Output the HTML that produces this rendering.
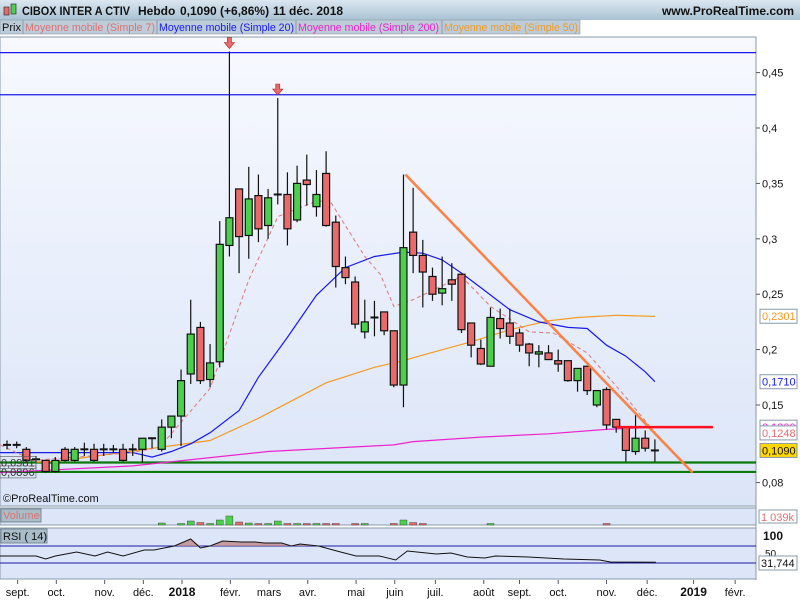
<!DOCTYPE html>
<html><head><meta charset="utf-8"><style>
body{margin:0;width:800px;height:600px;overflow:hidden;background:#fff;font-family:"Liberation Sans",sans-serif}
svg{display:block}
</style></head><body>
<svg id="c" width="800" height="600" xmlns="http://www.w3.org/2000/svg" font-family="Liberation Sans, sans-serif">
<defs>
<linearGradient id="hdr" x1="0" y1="0" x2="0" y2="1"><stop offset="0" stop-color="#dbe7f0"/><stop offset="1" stop-color="#a9c2d3"/></linearGradient>
<linearGradient id="bg" x1="0" y1="0" x2="0" y2="1"><stop offset="0" stop-color="#f7f9fe"/><stop offset="1" stop-color="#dbe5f8"/></linearGradient>
</defs>
<rect x="0" y="0" width="800" height="20" fill="url(#hdr)"/>
<g><rect x="4" y="7" width="5" height="8" fill="#e86a6a" stroke="#333" stroke-width="0.7"/><rect x="11" y="4" width="5" height="10" fill="#4cd04c" stroke="#333" stroke-width="0.7"/></g>
<g font-size="12" font-weight="bold" fill="#111">
<text x="22" y="15" textLength="108" lengthAdjust="spacingAndGlyphs">CIBOX INTER A CTIV</text>
<text x="138" y="15">Hebdo</text>
<text x="180" y="15">0,1090 (+6,86%)</text>
<text x="273" y="15">11 déc. 2018</text>
</g>
<text x="794" y="15" font-size="12" font-weight="bold" fill="#111" text-anchor="end">www.ProRealTime.com</text>
<g font-size="11">
<rect x="0" y="20" width="580" height="14" fill="#bcccd8" stroke="#8a9aa8" stroke-width="0.6"/>
<text x="2" y="31" fill="#111" textLength="19" lengthAdjust="spacingAndGlyphs">Prix</text>
<line x1="23" y1="20" x2="23" y2="34" stroke="#8a9aa8"/>
<text x="25" y="31" fill="#e07070" textLength="130" lengthAdjust="spacingAndGlyphs">Moyenne mobile (Simple 7)</text>
<line x1="157" y1="20" x2="157" y2="34" stroke="#8a9aa8"/>
<text x="159" y="31" fill="#1a1aee" textLength="135" lengthAdjust="spacingAndGlyphs">Moyenne mobile (Simple 20)</text>
<line x1="296" y1="20" x2="296" y2="34" stroke="#8a9aa8"/>
<text x="298" y="31" fill="#ee22cc" textLength="141" lengthAdjust="spacingAndGlyphs">Moyenne mobile (Simple 200)</text>
<line x1="442" y1="20" x2="442" y2="34" stroke="#8a9aa8"/>
<text x="444" y="31" fill="#f59a20" textLength="134" lengthAdjust="spacingAndGlyphs">Moyenne mobile (Simple 50)</text>
</g>
<rect x="0" y="37" width="756" height="469" fill="url(#bg)" stroke="#8899aa"/>
<line x1="756" y1="37" x2="756" y2="580" stroke="#8899aa"/>
<rect x="0" y="508" width="756" height="17" fill="#dde6f8" stroke="#8899aa"/>
<rect x="0" y="528" width="756" height="51" fill="#dde6f8" stroke="#8899aa"/>
<g id="plot"></g>
<text x="3" y="502" font-size="11" fill="#111">©ProRealTime.com</text>
<rect x="1" y="509" width="40" height="13" fill="#a9bcc8" stroke="#7a8a98"/>
<text x="3" y="519" font-size="11" fill="#e07070">Volume</text>
<rect x="1" y="529" width="46" height="14" fill="#a9bcc8" stroke="#7a8a98"/>
<text x="3" y="540" font-size="11" fill="#111">RSI ( 14)</text>
<rect x="759" y="510" width="38" height="13" fill="#fff" stroke="#8899aa"/>
<text x="761" y="521" font-size="11" fill="#e07070">1 039k</text>
<text x="763" y="540" font-size="12" font-weight="bold" fill="#111">100</text>
<text x="765" y="557" font-size="10" fill="#111">50</text>
<rect x="759" y="556" width="38" height="14" fill="#fff" stroke="#8899aa"/>
<text x="761" y="567" font-size="11" fill="#111">31,744</text>
</svg>
<script>
const NS="http://www.w3.org/2000/svg";
const opens=[.114,.114,.110,.101,.100,.090,.110,.100,.110,.110,.110,.110,.110,.110,.110,.120,.110,.130,.140,.178,.220,.173,.189,.294,.345,.303,.339,.312,.340,.340,.317,.353,.329,.359,.315,.274,.261,.216,.229,.234,.217,.168,.306,.285,.266,.251,.263,.268,.224,.201,.185,.228,.224,.215,.205,.196,.197,.190,.190,.172,.185,.150,.164,.137,.130,.108,.120,.109];
const closes=[.114,.114,.100,.101,.090,.100,.100,.110,.110,.100,.110,.110,.100,.110,.120,.120,.130,.140,.172,.214,.172,.188,.295,.319,.302,.336,.309,.337,.340,.309,.350,.349,.340,.312,.275,.265,.223,.225,.229,.217,.168,.292,.285,.270,.250,.255,.259,.218,.204,.187,.229,.219,.212,.204,.197,.198,.191,.187,.172,.183,.163,.163,.132,.130,.109,.120,.111,.109];
const highs=[.118,.117,.112,.104,.100,.103,.112,.112,.116,.115,.115,.114,.115,.115,.120,.120,.137,.140,.182,.245,.225,.205,.316,.469,.345,.365,.358,.345,.427,.360,.366,.376,.362,.379,.321,.284,.266,.245,.244,.234,.217,.358,.346,.299,.274,.284,.278,.268,.224,.209,.238,.237,.237,.219,.206,.204,.204,.200,.190,.183,.185,.163,.166,.137,.130,.141,.127,.119];
const lows=[.110,.111,.099,.098,.089,.089,.099,.099,.104,.099,.104,.107,.099,.104,.098,.111,.108,.120,.113,.169,.169,.166,.184,.284,.269,.282,.297,.300,.331,.294,.315,.330,.320,.311,.256,.259,.219,.210,.212,.213,.166,.148,.269,.238,.244,.240,.244,.215,.193,.186,.185,.210,.205,.198,.185,.184,.191,.180,.171,.162,.159,.148,.128,.125,.099,.105,.108,.099];
const volumes=[0,0,0,0,0,0,0,0,0,0,0,0,0,0,0,0,200,0,150,400,250,150,500,900,300,200,150,150,400,150,150,150,150,150,150,0,150,150,0,0,150,500,250,150,0,0,0,0,0,0,150,0,0,0,0,0,0,0,0,0,0,0,150,0,0,0,0,0];
const ma7Idx=[-0.7,2.7,13,15.8,21,25,28,32,33.4,37,38.6,40,42,47,50,54,56.5,60,64,67];
const ma7Val=[.114,.100,.107,.112,.165,.263,.320,.334,.334,.284,.268,.239,.245,.266,.239,.216,.215,.197,.157,.125];
const ma20Idx=[-0.8,13,15,17,19,21,24,26,29,32,35,38,41,43,45,47,49,52,55,58,60,62,64,66,67];
const ma20Val=[.107,.107,.103,.108,.115,.125,.145,.175,.211,.249,.274,.284,.288,.287,.281,.269,.256,.236,.225,.220,.219,.204,.194,.180,.171];
const ma50Idx=[3,5,21,26,33,38,41,43,48,52,56,59,63,67];
const ma50Val=[.0985,.099,.118,.138,.170,.184,.190,.195,.207,.218,.226,.229,.231,.230];
const ma200Idx=[-0.8,13,27,40,42,49,56,62,67];
const ma200Val=[.089,.095,.108,.114,.117,.121,.124,.128,.130];
const rsiIdx=[-0.8,3,4,5,7.2,9.1,10.4,12,14.2,15.2,17.3,19,20,21,22.3,24.2,25.7,26.6,28.4,29.4,30.3,32.2,34.5,36.1,38.5,40.2,41.4,44.4,45.9,47.6,49.4,50.5,53.9,57.6,61.3,62.4,67.1];
const rsiVal=[46.5,46.5,39.4,46.5,55.9,46.5,55.9,46.5,60.6,60.6,70,86.5,65.3,70,81.8,79.4,79.4,77,77,70,74.7,70,55.9,46.5,46.5,37,58.2,51.2,53.5,44.1,41.8,46.5,44.1,39.4,37,32.4,31.7];
const yTicks=[0.45,0.4,0.35,0.3,0.25,0.2,0.15,0.08];
const yTickLabels=["0,45","0,4","0,35","0,3","0,25","0,2","0,15","0,08"];
const monthIdx=[1.1,5.1,10.1,14.1,18.1,23.1,27.1,31.1,36.1,40.1,44.3,49.3,53,57,62,66.2,71,75.3];
const monthLabels=["sept.","oct.","nov.","déc.","2018","févr.","mars","avr.","mai","juin","juil.","août","sept.","oct.","nov.","déc.","2019","févr."];
const trendIdx=[41.2,70.9];const trendVal=[0.358,0.089];
const hLevels=[0.468,0.430];const supportLevels=[0.0981,0.0896];
const resistIdx=[63,73];const resistVal=0.130;

const xOf=i=>7+i*9.67;
const yOf=v=>405+(0.15-v)*1108;
const yRsi=v=>546+(70-v)*0.425;
const yVol=v=>525-v/100;
const g=document.getElementById('plot');
function mk(t,a){const e=document.createElementNS(NS,t);for(const k in a)e.setAttribute(k,a[k]);g.appendChild(e);return e;}

hLevels.forEach(v=>{const e=mk('line',{x1:0,x2:756,y1:yOf(v),y2:yOf(v),stroke:'#1a1aee','stroke-width':1.2});

});
supportLevels.forEach(v=>{const e=mk('line',{x1:0,x2:756,y1:yOf(v),y2:yOf(v),stroke:'#0a7a0a','stroke-width':2.2});

});

function path(idx,val,fx,fy){return idx.map((i,k)=>(k?'L':'M')+fx(i).toFixed(1)+' '+fy(val[k]).toFixed(1)).join(' ');}
let e;
e=mk('path',{d:path(ma200Idx,ma200Val,xOf,yOf),fill:'none',stroke:'#ee22cc','stroke-width':1.2});


e=mk('path',{d:path(ma50Idx,ma50Val,xOf,yOf),fill:'none',stroke:'#f59a20','stroke-width':1.2});


e=mk('path',{d:path(ma20Idx,ma20Val,xOf,yOf),fill:'none',stroke:'#1a1aee','stroke-width':1.2});


e=mk('path',{d:path(ma7Idx,ma7Val,xOf,yOf),fill:'none',stroke:'#e08080','stroke-width':1.1,'stroke-dasharray':'4 3'});



opens.forEach((o,i)=>{const c=closes[i];const x=xOf(i);
 const l=mk('line',{x1:x,x2:x,y1:yOf(highs[i]),y2:yOf(lows[i]),stroke:'#111','stroke-width':1.2});
 
 
 const top=yOf(Math.max(o,c)),bot=yOf(Math.min(o,c));
 let b;
 if(bot-top<1.5){b=mk('line',{x1:x-4,x2:x+4,y1:top,y2:top,stroke:'#111','stroke-width':2});}
 else b=mk('rect',{x:x-3.5,y:top,width:7,height:bot-top,fill:c>o?'#4cd04c':'#e86a6a',stroke:'#111','stroke-width':1.2});
 
 
});

e=mk('line',{x1:xOf(trendIdx[0]),y1:yOf(trendVal[0]),x2:xOf(trendIdx[1]),y2:yOf(trendVal[1]),stroke:'#ff8040','stroke-width':2.5});


e=mk('line',{x1:xOf(resistIdx[0]),x2:xOf(resistIdx[1]),y1:yOf(resistVal),y2:yOf(resistVal),stroke:'#ff1020','stroke-width':2.5});



[[23,0.469],[28,0.427]].forEach(a=>{const x=xOf(a[0]),y=yOf(a[1])-2;
 const p=mk('path',{d:`M${x-2} ${y-12}h4v5h3l-5 6l-5-6h3z`,fill:'#e86a6a',stroke:'#b03030','stroke-width':0.7});
 
 });

yTicks.forEach((v,k)=>{const y=yOf(v);
 const t=mk('line',{x1:756,x2:760,y1:y,y2:y,stroke:'#556'});
 
 
 const tx=mk('text',{x:762,y:y+4,'font-size':11,fill:'#111'});tx.textContent=yTickLabels[k];
 
 });

[[0.2301,'0,2301','#f59a20','#fff'],[0.1710,'0,1710','#1a1aee','#fff'],[0.1300,'0,1300','#ee22cc','#fff'],[0.1248,'0,1248','#e07070','#fff'],[0.1090,'0,1090','#111','#ffd700']].forEach(b=>{
 const y=yOf(b[0]);
 const r=mk('rect',{x:760,y:y-7,width:37,height:14,fill:b[3],stroke:'#8899aa'});
 
 
 const t=mk('text',{x:762,y:y+4,'font-size':11,fill:b[2]});t.textContent=b[1];
 
 });
[[0.0981,'0,0981'],[0.0896,'0,0896']].forEach(b=>{const y=yOf(b[0]);
 const r=mk('rect',{x:0,y:y-6,width:36,height:12,fill:'none',stroke:'#555','stroke-width':0.6});
 
 
 const t=mk('text',{x:1,y:y+4,'font-size':11,fill:'#333'});t.textContent=b[1];
 
 });

volumes.forEach((v,i)=>{if(!v)return;const y=yVol(v);
 const r=mk('rect',{x:xOf(i)-3.5,y:y,width:7,height:525-y,fill:closes[i]>=opens[i]?'#4cd04c':'#e86a6a',stroke:'#333','stroke-width':0.4});
 
 });

[70,30].forEach(v=>{const l=mk('line',{x1:0,x2:756,y1:yRsi(v),y2:yRsi(v),stroke:'#1a1a9e','stroke-width':1});
 
 });
let fillD='M'+xOf(rsiIdx[0])+' '+yRsi(70);
rsiIdx.forEach((i,k)=>{fillD+=' L'+xOf(i).toFixed(1)+' '+Math.min(yRsi(rsiVal[k]),yRsi(70)).toFixed(1);});
fillD+=' L'+xOf(rsiIdx[rsiIdx.length-1])+' '+yRsi(70)+' Z';
e=mk('path',{d:fillD,fill:'#c08a8a',opacity:0.8});


e=mk('path',{d:path(rsiIdx,rsiVal,xOf,yRsi),fill:'none',stroke:'#111','stroke-width':1});



monthIdx.forEach((i,k)=>{const x=xOf(i);
 const t=mk('line',{x1:x,x2:x,y1:580,y2:584,stroke:'#556'});
 
 
 const bold=/^\d/.test(monthLabels[k]);
 const tx=mk('text',{x:x,y:596,'font-size':bold?12:11,'font-weight':bold?'bold':'normal','text-anchor':'middle',fill:'#111'});
 tx.textContent=monthLabels[k];
 
 });
</script>
</body></html>
